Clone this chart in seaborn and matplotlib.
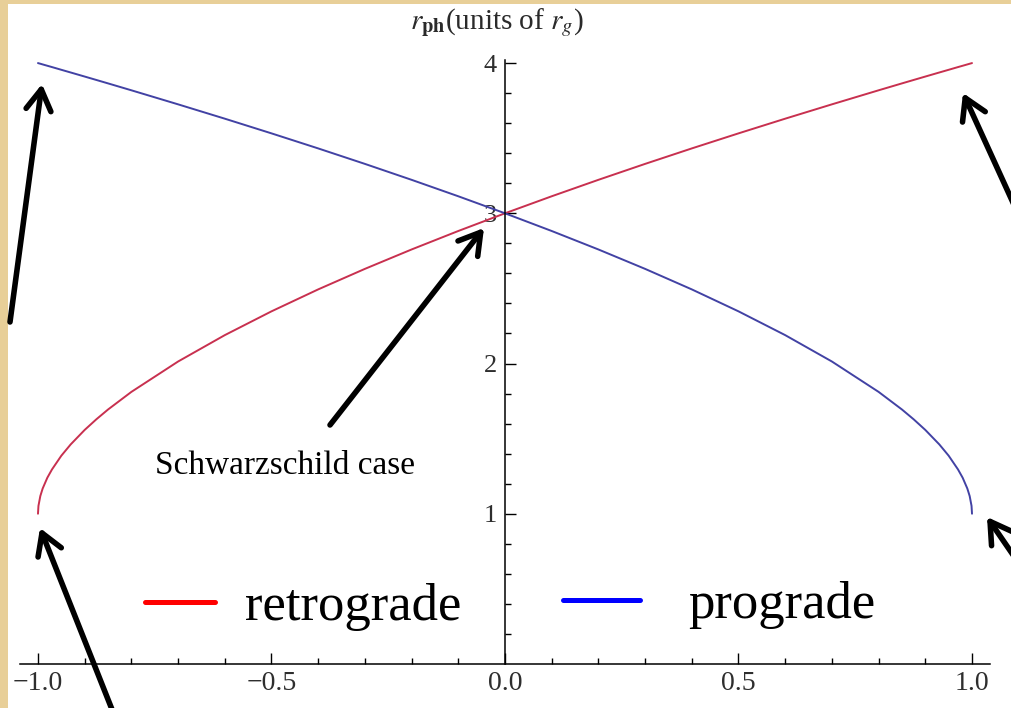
import matplotlib
matplotlib.use("Agg")
import matplotlib.pyplot as plt
import numpy as np
import pandas as pd
import seaborn as sns
from matplotlib.lines import Line2D
from matplotlib.ticker import FixedLocator

# ---- data ----
spin = [-1.0, -0.999, -0.995, -0.99, -0.98, -0.97, -0.95, -0.93, -0.9, -0.875, -0.85,
        -0.8, -0.7, -0.6, -0.5, -0.4, -0.3, -0.2, -0.1, 0.0,
        0.1, 0.2, 0.3, 0.4, 0.5, 0.6, 0.7, 0.8,
        0.85, 0.875, 0.9, 0.93, 0.95, 0.97, 0.98, 0.99, 0.995, 0.999, 1.0]
r_retrograde = [1.0, 1.0521, 1.1177, 1.1676, 1.2395, 1.2949, 1.3863, 1.4614, 1.5579, 1.6287, 1.6938,
                1.8111, 2.0133, 2.1889, 2.3473, 2.4934, 2.6300, 2.7592, 2.8822, 3.0,
                3.1133, 3.2228, 3.3289, 3.4319, 3.5321, 3.6299, 3.7253, 3.8188,
                3.8648, 3.8876, 3.9103, 3.9374, 3.9553, 3.9734, 3.9822, 3.9911, 3.9956, 3.9991, 4.0]
r_prograde = [4.0, 3.9991, 3.9956, 3.9911, 3.9822, 3.9734, 3.9553, 3.9374, 3.9103, 3.8876, 3.8648,
              3.8188, 3.7253, 3.6299, 3.5321, 3.4319, 3.3289, 3.2228, 3.1133, 3.0,
              2.8822, 2.7592, 2.6300, 2.4934, 2.3473, 2.1889, 2.0133, 1.8111,
              1.6938, 1.6287, 1.5579, 1.4614, 1.3863, 1.2949, 1.2395, 1.1676, 1.1177, 1.0521, 1.0]
series_names = ["retrograde", "prograde"]
x_ticks = [-1.0, -0.5, 0.0, 0.5, 1.0]
x_tick_labels = ["\u22121.0", "\u22120.5", "0.0", "0.5", "1.0"]
y_ticks = [1, 2, 3, 4]
y_tick_labels = ["1", "2", "3", "4"]
y_title = r"$r_{\mathbf{ph}}$(units of $r_g$)"
note_text = "Schwarzschild case"

curve_colors = {"retrograde": "#c8304f", "prograde": "#4242a4"}
legend_colors = {"retrograde": "#ff0000", "prograde": "#0000ff"}

# ---- style ----
sns.set_theme(style="white")
plt.rcParams["font.family"] = ["Liberation Serif", "DejaVu Sans"]
plt.rcParams["mathtext.fontset"] = "stix"

W, H = 1011, 708
fig = plt.figure(figsize=(W / 100, H / 100), dpi=100, facecolor="#e8cf98")
ax = fig.add_axes([8 / W, 0, (W - 8) / W, (H - 4) / H])
ax.set_facecolor("white")

df = pd.DataFrame({
    "spin": spin * 2,
    "r": r_retrograde + r_prograde,
    "orbit": [series_names[0]] * len(spin) + [series_names[1]] * len(spin),
})
sns.lineplot(data=df, x="spin", y="r", hue="orbit", palette=curve_colors,
             estimator=None, linewidth=1.4, legend=False, ax=ax)

ax.set_xlim(-1.0642, 1.0835)
ax.set_ylim(-0.2933, 4.3933)
ax.set_xlabel("")
ax.set_ylabel("")

for s in ["top", "right"]:
    ax.spines[s].set_visible(False)
ax.spines["left"].set_position(("data", 0))
ax.spines["bottom"].set_position(("data", 0))
ax.spines["bottom"].set_bounds(-1.0385, 1.0385)
ax.spines["left"].set_bounds(0, 4.02)
for s in ["left", "bottom"]:
    ax.spines[s].set_color("black")
    ax.spines[s].set_linewidth(1.1)

x_minor = [v for v in np.round(np.arange(-1.0, 1.001, 0.1), 2) if abs(v * 2 - round(v * 2)) > 1e-6]
y_minor = [v for v in np.round(np.arange(0.2, 4.0, 0.2), 2) if abs(v - round(v)) > 1e-6]

ax.xaxis.set_major_locator(FixedLocator(x_ticks))
ax.set_xticklabels(x_tick_labels)
ax.xaxis.set_minor_locator(FixedLocator(x_minor))
ax.yaxis.set_major_locator(FixedLocator(y_ticks))
ax.set_yticklabels(y_tick_labels)
ax.yaxis.set_minor_locator(FixedLocator(y_minor))
ax.tick_params(axis="both", which="major", direction="in", length=8, width=1,
               color="black", labelcolor="#2e2e2e")
ax.tick_params(axis="both", which="minor", direction="in", length=4.5, width=1,
               color="black")
ax.tick_params(axis="x", which="major", pad=5, labelsize=20)
ax.tick_params(axis="y", which="major", pad=6, labelsize=19)
ax.tick_params(axis="x", which="both", bottom=True)
ax.tick_params(axis="y", which="both", left=True)

fig.text(497 / W, 1 - 23 / H, y_title, ha="center", va="center", fontsize=21,
         color="#2a2a2a")

fig.text(155 / W, 1 - 474 / H, note_text, ha="left", va="baseline",
         fontsize=24, color="black")

h_ret = Line2D([], [], color=legend_colors["retrograde"], lw=3.6)
h_pro = Line2D([], [], color=legend_colors["prograde"], lw=3.6)
leg1 = ax.legend([h_ret], [series_names[0]], loc="center left",
                 bbox_to_anchor=(145 / W, 1 - 607 / H), bbox_transform=fig.transFigure,
                 frameon=False, fontsize=38, handlelength=1.33, handletextpad=0.57,
                 borderpad=0, borderaxespad=0, labelcolor="black")
ax.add_artist(leg1)
ax.legend([h_pro], [series_names[1]], loc="center left",
          bbox_to_anchor=(563 / W, 1 - 605 / H), bbox_transform=fig.transFigure,
          frameon=False, fontsize=38, handlelength=1.46, handletextpad=0.91,
          borderpad=0, borderaxespad=0, labelcolor="black")

arrows = [
    ((10, 386), (42, 624)),
    ((1020, 490), (963, 615)),
    ((113, -4), (40, 180)),
    ((1020, 143), (987, 191)),
    ((330, 283), (484, 480)),
]
for tail, tip in arrows:
    ax.annotate("", xy=tip, xycoords="figure pixels", xytext=tail,
                textcoords="figure pixels", annotation_clip=False,
                arrowprops=dict(arrowstyle="->,head_length=0.75,head_width=0.45",
                                lw=4, color="black", shrinkA=0, shrinkB=0,
                                mutation_scale=20))

fig.savefig("out.png", dpi=100, facecolor=fig.get_facecolor())
